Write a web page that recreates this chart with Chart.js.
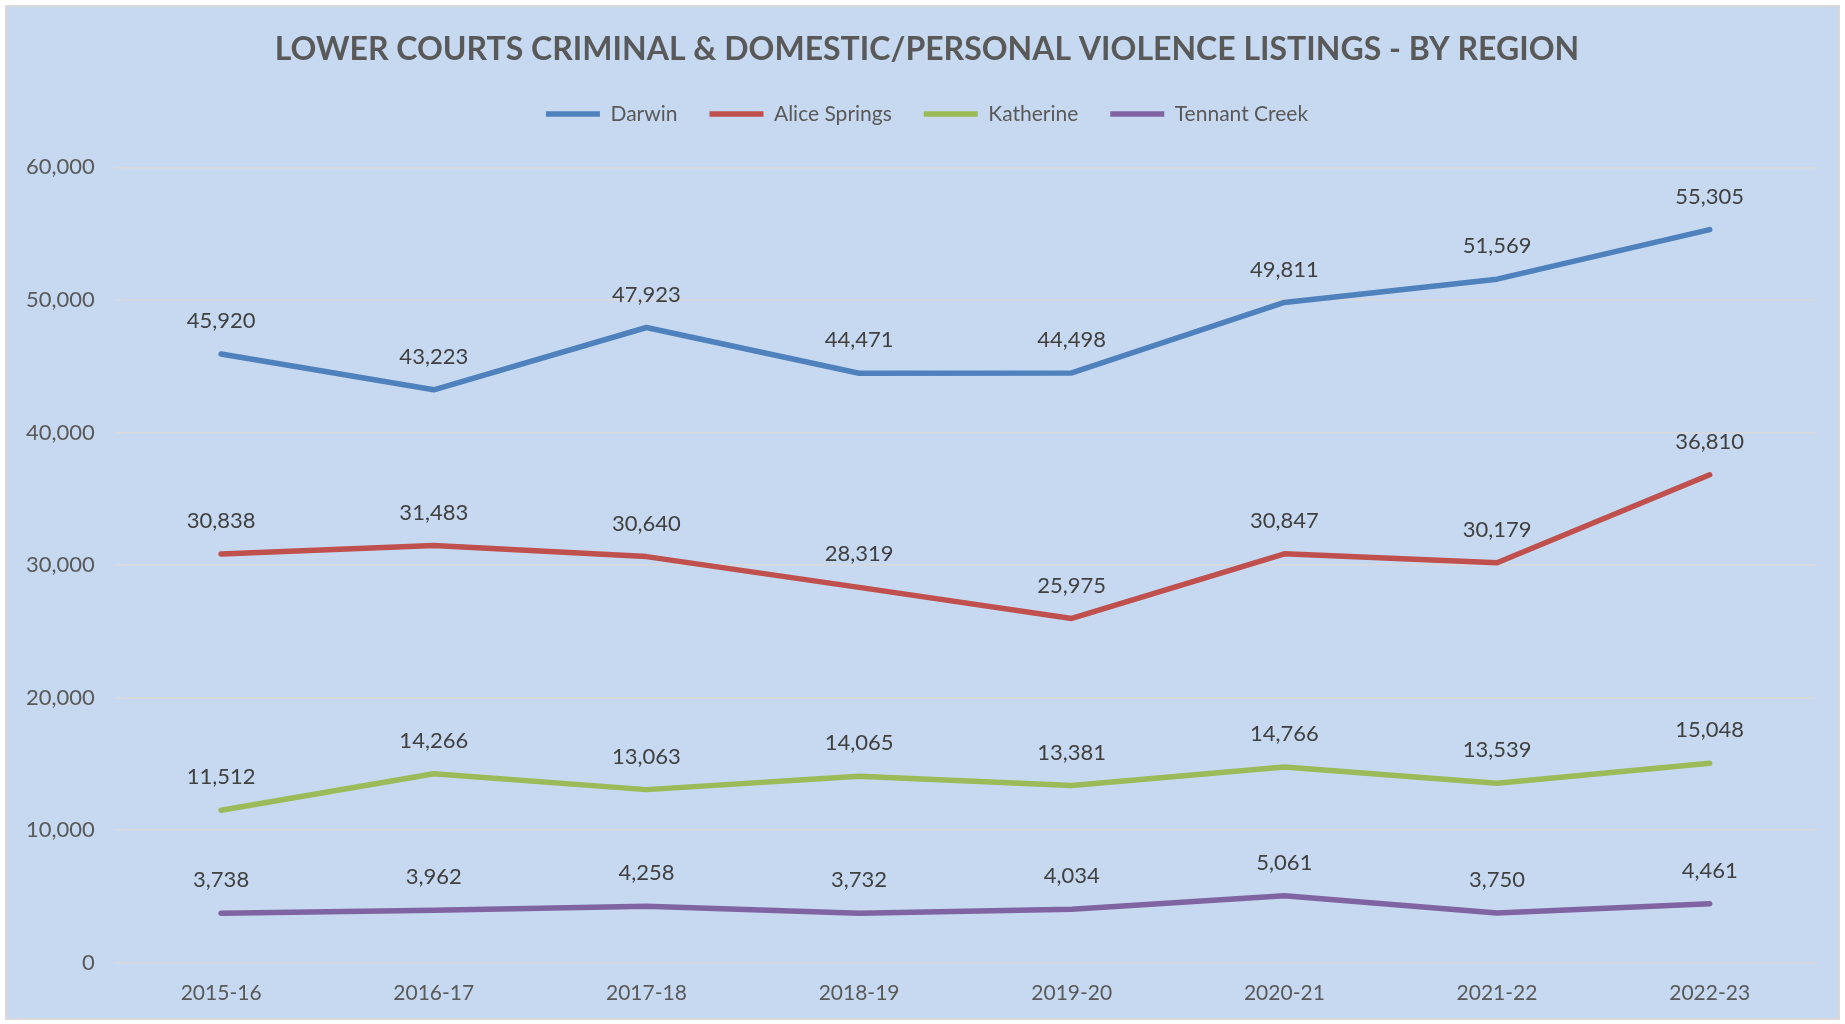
<!DOCTYPE html>
<html>
<head>
<meta charset="utf-8">
<script src="https://cdn.jsdelivr.net/npm/chart.js@4.4.1/dist/chart.umd.min.js"></script>
<style>
  html, body { margin: 0; padding: 0; background: #ffffff; }
  #wrap { position: absolute; left: 0; top: 0; width: 1845px; height: 1024px; }
</style>
</head>
<body>
<div id="wrap"><canvas id="c" width="1845" height="1024"></canvas></div>
<script>
const categories = ["2015-16", "2016-17", "2017-18", "2018-19", "2019-20", "2020-21", "2021-22", "2022-23"];
const darwin = [45920, 43223, 47923, 44471, 44498, 49811, 51569, 55305];
const aliceSprings = [30838, 31483, 30640, 28319, 25975, 30847, 30179, 36810];
const katherine = [11512, 14266, 13063, 14065, 13381, 14766, 13539, 15048];
const tennantCreek = [3738, 3962, 4258, 3732, 4034, 5061, 3750, 4461];
const seriesNames = ["Darwin", "Alice Springs", "Katherine", "Tennant Creek"];
const yTicks = [0, 10000, 20000, 30000, 40000, 50000, 60000];

const colors = ["#4F81BD", "#C0504D", "#9BBB59", "#8064A2"];
const FONT = "Lato, 'Open Sans', sans-serif";

const bgPlugin = {
  id: 'bg',
  beforeDraw(chart) {
    const ctx = chart.ctx;
    ctx.save();
    ctx.fillStyle = '#ffffff';
    ctx.fillRect(0, 0, chart.width, chart.height);
    ctx.fillStyle = '#C6D9F1';
    ctx.fillRect(6, 6, chart.width - 12, chart.height - 11);
    ctx.strokeStyle = '#D9D9D9';
    ctx.lineWidth = 2;
    ctx.strokeRect(6, 6, chart.width - 12, chart.height - 11);
    ctx.restore();
  }
};

const legendMargin = {
  id: 'legendMargin',
  beforeInit(chart) {
    const origFit = chart.legend.fit;
    chart.legend.fit = function () {
      origFit.bind(chart.legend)();
      this.height += 33;
    };
  },
  afterLayout(chart) {
    // centre title and legend on the whole canvas rather than the padded box
    [chart.titleBlock, chart.legend].forEach(b => {
      if (b) { b.left += 16; b.right += 16; }
    });
  }
};

const dataLabels = {
  id: 'dataLabels',
  afterDatasetsDraw(chart) {
    const ctx = chart.ctx;
    ctx.save();
    ctx.font = "22px " + FONT;
    ctx.fillStyle = '#404040';
    ctx.textAlign = 'center';
    ctx.textBaseline = 'middle';
    chart.data.datasets.forEach((ds, i) => {
      const meta = chart.getDatasetMeta(i);
      meta.data.forEach((pt, j) => {
        ctx.fillText(ds.data[j].toLocaleString('en-US'), pt.x, pt.y - 33);
      });
    });
    ctx.restore();
  }
};

const seriesData = [darwin, aliceSprings, katherine, tennantCreek];

new Chart(document.getElementById('c'), {
  type: 'line',
  data: {
    labels: categories,
    datasets: seriesData.map((d, i) => ({
      label: seriesNames[i],
      data: d,
      borderColor: colors[i],
      backgroundColor: colors[i],
      borderWidth: 5.5,
      borderCapStyle: 'round',
      borderJoinStyle: 'round',
      pointRadius: 0,
      pointHoverRadius: 0,
      tension: 0
    }))
  },
  options: {
    responsive: false,
    animation: false,
    devicePixelRatio: 1,
    layout: { padding: { left: 6, right: 29, top: 0, bottom: 0 } },
    plugins: {
      title: {
        display: true,
        text: 'LOWER COURTS CRIMINAL & DOMESTIC/PERSONAL VIOLENCE LISTINGS - BY REGION',
        color: '#595959',
        font: { family: FONT, size: 32, weight: 'bold' },
        padding: { top: 30, bottom: 3 }
      },
      legend: {
        display: true,
        position: 'top',
        labels: {
          color: '#595959',
          font: { family: FONT, size: 21 },
          usePointStyle: true,
          pointStyle: 'line',
          pointStyleWidth: 54,
          boxHeight: 21,
          padding: 32
        }
      },
      tooltip: { enabled: false }
    },
    scales: {
      x: {
        offset: true,
        grid: { display: false, drawTicks: false, offset: true },
        border: { display: false },
        ticks: { color: '#595959', font: { family: FONT, size: 21 }, padding: 18 }
      },
      y: {
        min: 0,
        max: 60000,
        afterBuildTicks(axis) { axis.ticks = yTicks.map(v => ({ value: v })); },
        grid: { color: '#D9D9D9', lineWidth: 1.5, drawTicks: false },
        border: { display: false },
        ticks: {
          color: '#595959',
          font: { family: FONT, size: 22 },
          padding: 20,
          callback: v => v.toLocaleString('en-US')
        }
      }
    }
  },
  plugins: [bgPlugin, legendMargin, dataLabels]
});
</script>
</body>
</html>
